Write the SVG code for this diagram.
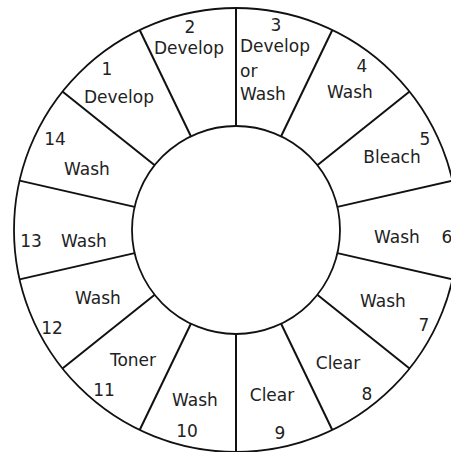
<svg xmlns="http://www.w3.org/2000/svg" width="451" height="452" viewBox="0 0 451 452">
<style>
.ring{fill:none;stroke:#111;stroke-width:1.8}
.div{stroke:#111;stroke-width:2;stroke-linecap:butt}
text{font-family:"DejaVu Sans","Liberation Sans",sans-serif;font-size:17px;fill:#222;text-anchor:middle}
.l{text-anchor:start}
</style>
<rect width="451" height="452" fill="#fff"/>
<g id="rings">
<circle class="ring" cx="236" cy="230" r="222"/>
<circle class="ring" cx="236" cy="230" r="104" fill="#fff"/>
</g>
<g id="dividers">
<line class="div" x1="236" y1="126" x2="236" y2="8"/>
<line class="div" x1="281.12" y1="136.30" x2="332.32" y2="29.98"/>
<line class="div" x1="317.31" y1="165.16" x2="409.57" y2="91.59"/>
<line class="div" x1="337.39" y1="206.86" x2="452.43" y2="180.60"/>
<line class="div" x1="337.39" y1="253.14" x2="452.43" y2="279.40"/>
<line class="div" x1="317.31" y1="294.84" x2="409.57" y2="368.41"/>
<line class="div" x1="281.12" y1="323.70" x2="332.32" y2="430.02"/>
<line class="div" x1="236" y1="334" x2="236" y2="452"/>
<line class="div" x1="190.88" y1="323.70" x2="139.68" y2="430.02"/>
<line class="div" x1="154.69" y1="294.84" x2="62.43" y2="368.41"/>
<line class="div" x1="134.61" y1="253.14" x2="19.57" y2="279.40"/>
<line class="div" x1="134.61" y1="206.86" x2="19.57" y2="180.60"/>
<line class="div" x1="154.69" y1="165.16" x2="62.43" y2="91.59"/>
<line class="div" x1="190.88" y1="136.30" x2="139.68" y2="29.98"/>
</g>
<g id="seg1"><text x="107" y="75">1</text><text x="119" y="103">Develop</text></g>
<g id="seg2"><text x="190" y="33">2</text><text x="189" y="54">Develop</text></g>
<g id="seg3"><text x="276" y="31">3</text><text x="275" y="52">Develop</text><text class="l" x="240" y="77">or</text><text class="l" x="240" y="100">Wash</text></g>
<g id="seg4"><text x="362" y="72">4</text><text x="350" y="98">Wash</text></g>
<g id="seg5"><text x="425" y="145">5</text><text x="392" y="163">Bleach</text></g>
<g id="seg6"><text x="397" y="243">Wash</text><text x="447" y="243">6</text></g>
<g id="seg7"><text x="383" y="307">Wash</text><text x="424" y="331">7</text></g>
<g id="seg8"><text x="338" y="369">Clear</text><text x="367" y="400">8</text></g>
<g id="seg9"><text x="272" y="401">Clear</text><text x="280" y="439">9</text></g>
<g id="seg10"><text x="195" y="406">Wash</text><text x="187" y="437">10</text></g>
<g id="seg11"><text x="133" y="366">Toner</text><text x="104" y="396">11</text></g>
<g id="seg12"><text x="98" y="304">Wash</text><text x="52" y="334">12</text></g>
<g id="seg13"><text x="31" y="247">13</text><text x="84" y="247">Wash</text></g>
<g id="seg14"><text x="55" y="145">14</text><text x="87" y="175">Wash</text></g>
</svg>
